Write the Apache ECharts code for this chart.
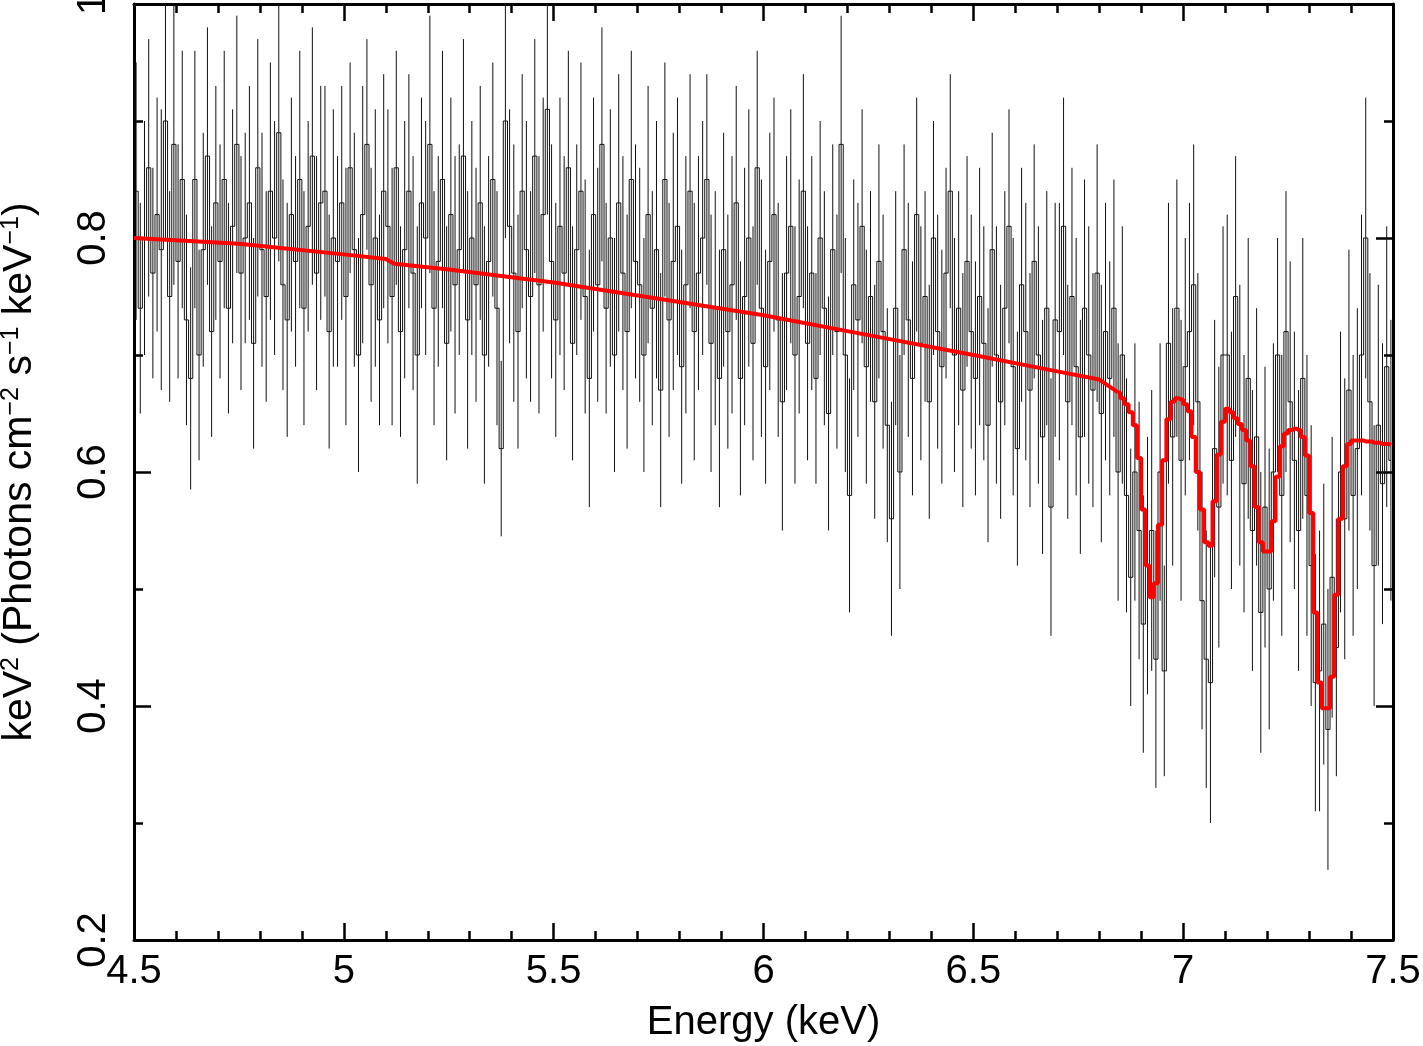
<!DOCTYPE html>
<html>
<head>
<meta charset="utf-8">
<title>Spectrum 4.5-7.5 keV</title>
<script src="https://cdn.jsdelivr.net/npm/echarts@6/dist/echarts.min.js"></script>
<style>
html, body { margin: 0; padding: 0; background: #fff; }
#chart { width: 1423px; height: 1046px; }
</style>
</head>
<body>
<div id="chart"></div>
<script>
// spectral bins, 10 eV wide, starting at 4.5 keV
var binStart = 4.5;
var binWidth = 0.01;

// keV^2 flux per bin (rows of 0.2 keV)
var flux = [
  0.84,0.74,0.80,0.86,0.77,0.82,0.79,0.90,0.75,0.88,0.78,0.85,0.73,0.68,0.85,0.70,0.79,0.87,0.72,0.83,
  0.78,0.85,0.74,0.81,0.88,0.77,0.80,0.83,0.71,0.86,0.79,0.75,0.84,0.80,0.89,0.76,0.73,0.82,0.78,0.85,
  0.74,0.81,0.87,0.77,0.83,0.84,0.72,0.80,0.78,0.83,0.75,0.86,0.79,0.70,0.82,0.88,0.76,0.80,0.73,0.84,
  0.81,0.75,0.86,0.72,0.79,0.84,0.77,0.70,0.83,0.80,0.88,0.74,0.78,0.85,0.71,0.82,0.76,0.79,0.87,0.73,
  0.80,0.76,0.83,0.70,0.78,0.85,0.74,0.62,0.90,0.81,0.77,0.72,0.84,0.79,0.75,0.87,0.76,0.82,0.91,0.78,
  0.73,0.81,0.77,0.86,0.71,0.79,0.84,0.75,0.68,0.82,0.76,0.88,0.74,0.80,0.70,0.83,0.77,0.72,0.85,0.78,
  0.76,0.70,0.82,0.74,0.79,0.67,0.85,0.73,0.78,0.81,0.69,0.76,0.84,0.72,0.77,0.80,0.85,0.71,0.74,0.68,
  0.79,0.72,0.76,0.83,0.68,0.75,0.80,0.71,0.86,0.74,0.69,0.78,0.82,0.73,0.66,0.77,0.81,0.70,0.75,0.84,
  0.71,0.77,0.68,0.80,0.74,0.65,0.79,0.72,0.88,0.70,0.58,0.76,0.73,0.81,0.69,0.75,0.66,0.78,0.72,0.64,
  0.56,0.74,0.60,0.79,0.73,0.68,0.82,0.71,0.75,0.66,0.80,0.72,0.69,0.77,0.84,0.70,0.74,0.67,0.78,0.72,
  0.68,0.75,0.71,0.64,0.79,0.70,0.66,0.74,0.81,0.69,0.62,0.76,0.72,0.67,0.78,0.70,0.63,0.74,0.57,0.73,
  0.72,0.81,0.66,0.75,0.69,0.63,0.74,0.70,0.67,0.77,0.65,0.72,0.68,0.74,0.60,0.70,0.58,0.51,0.60,0.55,
  0.47,0.52,0.55,0.44,0.60,0.43,0.71,0.63,0.74,0.61,0.69,0.72,0.76,0.66,0.49,0.44,0.42,0.62,0.57,0.70,
  0.70,0.61,0.75,0.64,0.59,0.68,0.55,0.63,0.48,0.57,0.50,0.60,0.70,0.58,0.72,0.66,0.61,0.55,0.68,0.58,
  0.52,0.42,0.43,0.47,0.38,0.51,0.45,0.60,0.56,0.67,0.58,0.62,0.70,0.80,0.66,0.52,0.64,0.59,0.69,0.61
];

// 1-sigma errors per bin
var fluxErr = [
  0.11,0.09,0.10,0.11,0.09,0.10,0.12,0.10,0.09,0.12,0.10,0.11,0.09,0.095,0.11,0.09,0.10,0.11,0.09,0.10,
  0.10,0.11,0.09,0.10,0.11,0.10,0.09,0.10,0.09,0.11,0.10,0.09,0.11,0.10,0.11,0.09,0.10,0.10,0.09,0.11,
  0.10,0.09,0.11,0.10,0.10,0.09,0.10,0.11,0.09,0.10,0.11,0.09,0.10,0.10,0.11,0.09,0.10,0.11,0.09,0.10,
  0.10,0.11,0.10,0.09,0.11,0.10,0.10,0.11,0.09,0.10,0.11,0.10,0.09,0.11,0.10,0.10,0.11,0.09,0.10,0.11,
  0.10,0.10,0.10,0.11,0.09,0.10,0.10,0.075,0.10,0.10,0.11,0.10,0.10,0.11,0.09,0.10,0.11,0.10,0.09,0.10,
  0.10,0.11,0.10,0.10,0.10,0.09,0.11,0.10,0.11,0.10,0.10,0.10,0.09,0.11,0.10,0.11,0.10,0.10,0.11,0.10,
  0.10,0.10,0.11,0.10,0.11,0.10,0.10,0.10,0.11,0.11,0.10,0.11,0.10,0.11,0.10,0.10,0.09,0.11,0.10,0.11,
  0.10,0.10,0.11,0.10,0.10,0.11,0.11,0.10,0.10,0.11,0.10,0.11,0.10,0.10,0.11,0.10,0.10,0.11,0.10,0.10,
  0.10,0.10,0.09,0.10,0.10,0.10,0.09,0.10,0.11,0.10,0.10,0.09,0.10,0.10,0.10,0.09,0.10,0.10,0.10,0.10,
  0.10,0.10,0.10,0.09,0.10,0.10,0.10,0.10,0.09,0.10,0.10,0.10,0.10,0.09,0.10,0.10,0.10,0.10,0.09,0.10,
  0.10,0.11,0.10,0.10,0.10,0.11,0.10,0.10,0.10,0.11,0.10,0.10,0.11,0.10,0.10,0.11,0.10,0.10,0.11,0.10,
  0.11,0.11,0.10,0.11,0.11,0.10,0.11,0.11,0.10,0.11,0.11,0.11,0.10,0.11,0.11,0.11,0.10,0.11,0.11,0.11,
  0.11,0.11,0.12,0.11,0.11,0.09,0.12,0.11,0.11,0.12,0.11,0.11,0.12,0.11,0.11,0.11,0.12,0.11,0.12,0.11,
  0.12,0.11,0.12,0.12,0.11,0.12,0.12,0.11,0.12,0.12,0.12,0.11,0.10,0.12,0.12,0.12,0.11,0.12,0.12,0.12,
  0.12,0.11,0.12,0.12,0.12,0.12,0.11,0.12,0.12,0.12,0.12,0.12,0.12,0.12,0.11,0.12,0.12,0.12,0.12,0.12
];

// model continuum below the absorption lines: [keV, value]
var modelContinuum = [
  [4.5,0.800],[4.75,0.795],[5.0,0.786],[5.1,0.782],[5.12,0.778],[5.25,0.773],[5.5,0.762],
  [5.75,0.748],[6.0,0.734],[6.25,0.717],[6.5,0.700],[6.7,0.686],[6.8,0.679],[6.845,0.668]
];

// model per bin across the absorption lines, first bin centre at 6.845 keV
var modelLineStart = 6.845;
var modelLines = [
  0.668,0.663,0.658,0.651,0.640,0.612,0.568,0.520,0.493,0.505,
  0.555,0.610,0.645,0.660,0.663,0.662,0.658,0.652,0.630,0.600,
  0.568,0.540,0.537,0.575,0.615,0.643,0.654,0.651,0.646,0.641,
  0.636,0.627,0.605,0.570,0.540,0.532,0.532,0.558,0.596,0.622,
  0.633,0.636,0.637,0.636,0.630,0.614,0.565,0.480,0.420,0.398,
  0.398,0.425,0.495,0.560,0.605,0.624,0.627,0.627,0.627,0.626,
  0.626,0.625,0.625,0.624,0.624,0.623
];

var xTicks = { min: 4.5, max: 7.5, step: 0.5 };
var yTicks = { min: 0.2, max: 1.0, step: 0.2 };

var FONT = 'Liberation Sans, Arial, Helvetica, sans-serif';

var dataPts = [], errPts = [];
flux.forEach(function (v, i) {
  var e = +(binStart + binWidth * (i + 0.5)).toFixed(3);
  dataPts.push([e, v]);
  errPts.push([e, v, fluxErr[i]]);
});
var modelStep = modelLines.map(function (v, i) {
  return [+(modelLineStart + binWidth * i).toFixed(3), v];
});

var tickStyle = { color: '#000', width: 2.5 };

function xAxisDef(pos, showLabel) {
  return {
    type: 'value', position: pos, min: xTicks.min, max: xTicks.max, interval: xTicks.step,
    axisLine: { show: true, onZero: false, lineStyle: { color: '#000', width: 3 } },
    axisTick: { show: true, inside: true, length: 17, lineStyle: tickStyle },
    minorTick: { show: true, splitNumber: 5, length: 9, lineStyle: tickStyle },
    splitLine: { show: false },
    axisLabel: { show: showLabel, fontSize: 40, color: '#000', margin: 12, fontFamily: FONT },
    name: showLabel ? 'Energy (keV)' : '', nameLocation: 'middle', nameGap: 63,
    nameTextStyle: { fontSize: 40, color: '#000', fontFamily: FONT }
  };
}

function yAxisDef(pos, showLabel) {
  return {
    type: 'value', position: pos, min: yTicks.min, max: yTicks.max, interval: yTicks.step,
    axisLine: { show: true, onZero: false, lineStyle: { color: '#000', width: 3 } },
    axisTick: { show: true, inside: true, length: 17, lineStyle: tickStyle },
    minorTick: { show: true, splitNumber: 2, length: 9, lineStyle: tickStyle },
    splitLine: { show: false },
    axisLabel: { show: showLabel, rotate: 90, fontSize: 40, color: '#000', margin: 20, fontFamily: FONT },
    name: showLabel ? '{a|keV}{s|2}{a| (Photons cm}{s|\u22122}{a| s}{s|\u22121}{a| keV}{s|\u22121}{a|)}' : '',
    nameLocation: 'middle', nameGap: 94,
    nameTextStyle: {
      color: '#000', fontSize: 40, fontFamily: FONT,
      rich: {
        a: { fontSize: 41, color: '#000', fontFamily: FONT },
        s: { fontSize: 25, color: '#000', fontFamily: FONT, verticalAlign: 'top' }
      }
    }
  };
}

var myChart = echarts.init(document.getElementById('chart'));
myChart.setOption({
  animation: false,
  backgroundColor: '#fff',
  grid: { left: 134, right: 30, top: 4, bottom: 106, containLabel: false, outerBoundsMode: 'none' },
  xAxis: [xAxisDef('bottom', true), xAxisDef('top', false)],
  yAxis: [yAxisDef('left', true), yAxisDef('right', false)],
  series: [
    {
      name: 'errors', type: 'custom', clip: true, z: 2,
      data: errPts,
      encode: { x: 0, y: 1 },
      renderItem: function (params, api) {
        var x = api.value(0), y = api.value(1), e = api.value(2);
        var lo = api.coord([x, y - e]), hi = api.coord([x, y + e]);
        return {
          type: 'line',
          shape: { x1: lo[0], y1: lo[1], x2: hi[0], y2: hi[1] },
          style: { stroke: '#111', lineWidth: 1 }
        };
      }
    },
    {
      name: 'data', type: 'line', step: 'middle', data: dataPts, symbol: 'none', z: 3,
      lineStyle: { color: '#111', width: 1 }
    },
    {
      name: 'model', type: 'line', data: modelContinuum, symbol: 'none', z: 5,
      lineStyle: { color: '#ff0000', width: 4 }
    },
    {
      name: 'model lines', type: 'line', step: 'middle', data: modelStep, symbol: 'none', z: 5,
      lineStyle: { color: '#ff0000', width: 4 }
    }
  ]
});
</script>
</body>
</html>
